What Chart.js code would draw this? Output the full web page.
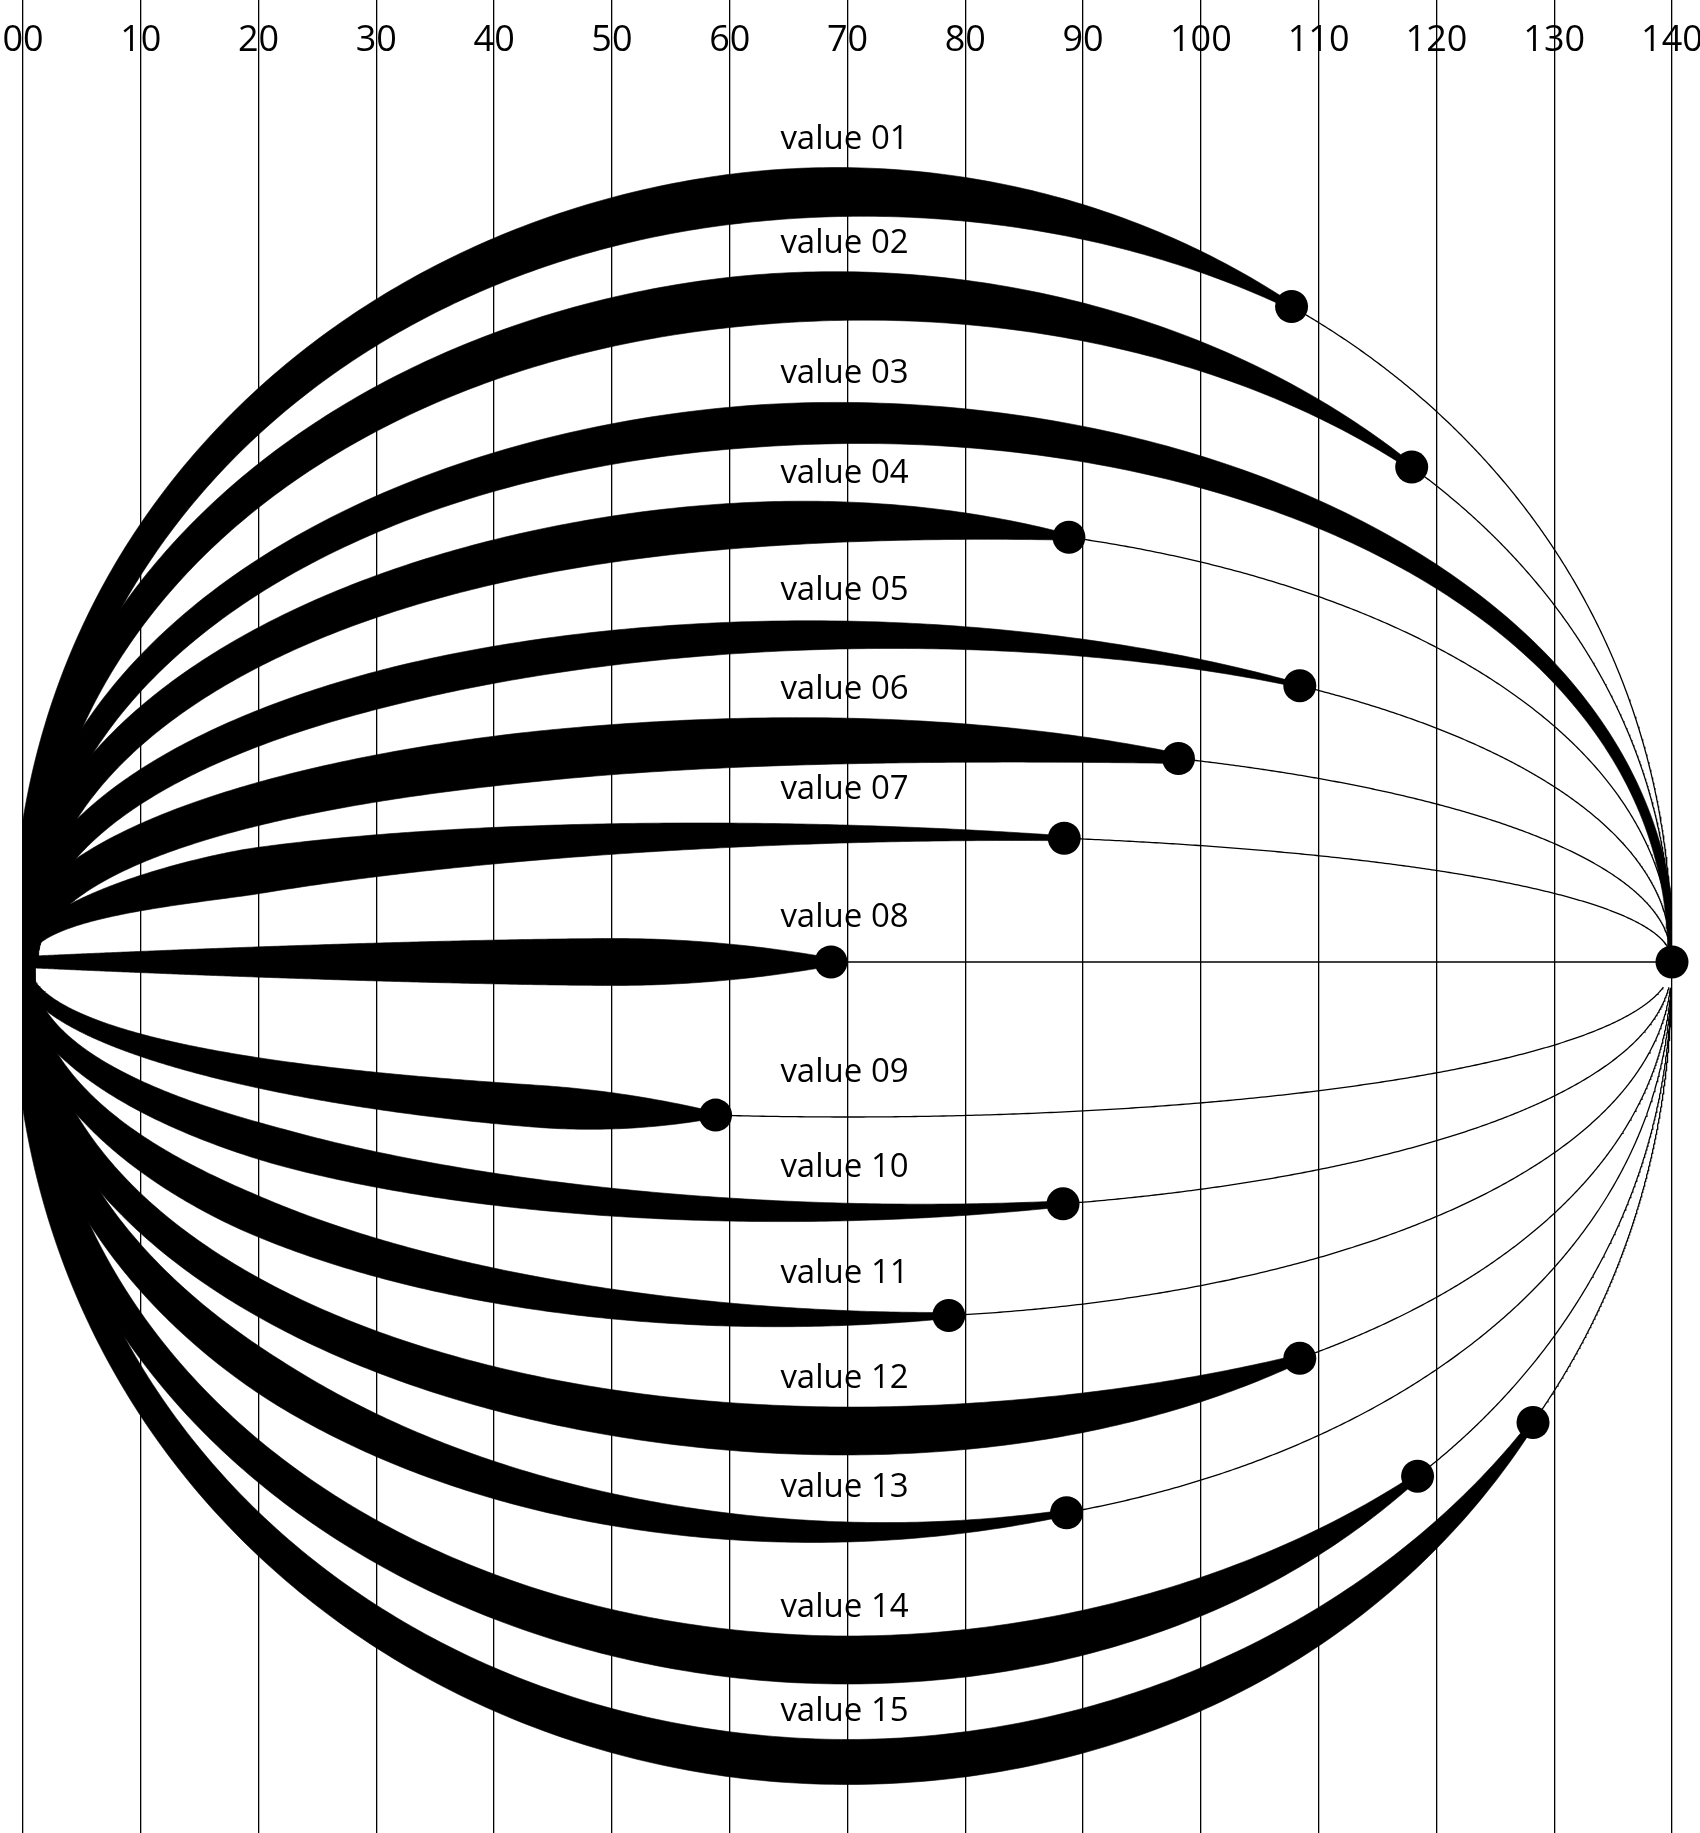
<!DOCTYPE html>
<html>
<head>
<meta charset="utf-8">
<script src="https://cdn.jsdelivr.net/npm/chart.js@4.4.1/dist/chart.umd.min.js"></script>
<style>
  html, body { margin: 0; padding: 0; background: #ffffff; }
  #wrap { width: 1700px; height: 1833px; position: relative; }
</style>
</head>
<body>
<div id="wrap"><canvas id="c"></canvas></div>
<script>
// ---------------- DATA ----------------
const CATEGORIES = ['value 01','value 02','value 03','value 04','value 05','value 06','value 07','value 08',
                    'value 09','value 10','value 11','value 12','value 13','value 14','value 15'];
// end value of every arc (at the centre of each dot)
const END_VALUES = [107.7, 117.9, 140, 88.8, 108.4, 98.1, 88.4, 68.6, 58.8, 88.3, 78.6, 108.4, 88.6, 118.4, 128.2];
// height of each arc at its apex (y-axis units, + above / - below the centre line)
const ARC_HEIGHTS = [770, 666, 539, 440, 327, 221, 128, 0, -155, -250, -356, -469, -570, -698, -800];
const TICK_LABELS = ['00','10','20','30','40','50','60','70','80','90','100','110','120','130','140'];

// ---------------- GEOMETRY / STYLE ----------------
const X_MIN = 0, X_MAX = 140, X_MID = 70, HALF = 70;
const AXIS_BAND = 70;                 // height of the tick-label strip at the top
const Y_MIN = -871, Y_MAX = 962 - AXIS_BAND;
const ARC_EXP = 0.47;
// band thickness profile (pixels): [peak width, peak position (0..1), start width, end width, fall exponent]
const BAND_PROFILE = [
  [50, 0.58, 22, 6, 2.0],
  [50, 0.52, 22, 6, 1.8],
  [42, 0.45, 20, 8, 1.5],
  [46, 0.60, 24, 6, 2.5],
  [37, 0.30, 24, 4, 1.8],
  [50, 0.45, 30, 10, 3.0],
  [46, 0.22, 12, 5, 1.2],
  [47, 0.73, 11, 8, 2.0],
  [42, 0.75, 12, 6, 2.0],
  [36, 0.25, 16, 6, 1.5],
  [38, 0.25, 16, 6, 2.0],
  [48, 0.60, 24, 8, 2.7],
  [40, 0.25, 18, 6, 1.6],
  [48, 0.55, 22, 6, 3.0],
  [45, 0.50, 22, 6, 3.4]
];
const RISE_EXP = 1.5;
const TAIL_GAP_ABOVE = 6, TAIL_GAP_BELOW = 25;   // px left open where thin tails meet
const DOT_RADIUS = 16.5;
const INK = '#000000';
const GRID_WIDTH = 1.3, TAIL_WIDTH = 1.3;
const LABEL_FONT = '33px "Open Sans"';
const LABEL_GAP = 19, LABEL_MIN_HALF = 16, LABEL_DX = -3;

function profileWidth(i, s) {
  const [W, p, w0, w1, k] = BAND_PROFILE[i];
  if (s <= p) return w0 + (W - w0) * (1 - Math.pow(1 - s / p, RISE_EXP));
  const t = Math.min(1, (s - p) / (1 - p));
  return W - (W - w1) * Math.pow(t, k);
}
function arcX(th) { return X_MID - HALF * Math.cos(th); }
function arcY(b, th) { return b * Math.pow(Math.max(0, Math.sin(th)), 2 * ARC_EXP); }
function thetaAt(x) { return Math.acos(Math.max(-1, Math.min(1, (X_MID - x) / HALF))); }

function bandData(i, rx, ry) {
  const v = END_VALUES[i], b = ARC_HEIGHTS[i];
  const thEnd = thetaAt(v);
  const N = 240;
  const outer = [], inner = [];
  for (let j = 0; j <= N; j++) {
    const th = thEnd * j / N;
    const x = arcX(th), y = arcY(b, th);
    const sn = Math.max(0, Math.sin(th)), cs = Math.cos(th);
    let tx = HALF * rx * Math.pow(sn, 2 - 2 * ARC_EXP);
    let ty = b * ry * 2 * ARC_EXP * cs;
    let len = Math.hypot(tx, ty);
    if (len < 1e-9) { tx = 1; ty = 0; len = 1; }
    const nx = -ty / len, ny = tx / len;
    const w = profileWidth(i, Math.max(0, Math.min(1, x / v)));
    const X = x * rx, Y = y * ry;
    outer.push({ x: (X + nx * w / 2) / rx, y: (Y + ny * w / 2) / ry });
    inner.push({ x: (X - nx * w / 2) / rx, y: (Y - ny * w / 2) / ry });
  }
  return outer.concat(inner.reverse());
}

function tailData(i, ry) {
  const v = END_VALUES[i], b = ARC_HEIGHTS[i];
  if (v >= X_MAX) return [];
  const th0 = thetaAt(v);
  const N = 300, pts = [];
  const gap = b < 0 ? TAIL_GAP_BELOW : TAIL_GAP_ABOVE;
  for (let j = 0; j <= N; j++) {
    const th = th0 + (Math.PI - th0) * j / N;
    const y = arcY(b, th);
    if (j > 0 && b !== 0 && Math.abs(y) * ry < gap) break;
    pts.push({ x: arcX(th), y: y });
  }
  return pts;
}

function dotData() {
  return END_VALUES.map((v, i) => ({ x: v, y: arcY(ARC_HEIGHTS[i], thetaAt(v)) }));
}

function buildDatasets(rx, ry) {
  const ds = [];
  CATEGORIES.forEach((name, i) => {
    ds.push({
      label: name + ' band', data: bandData(i, rx, ry),
      borderColor: INK, backgroundColor: INK, borderWidth: 0.6,
      fill: 'shape', pointRadius: 0, pointHoverRadius: 0, tension: 0
    });
  });
  CATEGORIES.forEach((name, i) => {
    const d = tailData(i, ry);
    if (d.length) ds.push({
      label: name + ' tail', data: d,
      borderColor: INK, borderWidth: TAIL_WIDTH, fill: false,
      pointRadius: 0, pointHoverRadius: 0, tension: 0
    });
  });
  ds.push({
    label: 'end points', data: dotData(), showLine: false,
    pointRadius: DOT_RADIUS, pointHoverRadius: DOT_RADIUS,
    pointBackgroundColor: INK, pointBorderColor: INK, pointBorderWidth: 0,
    clip: false
  });
  return ds;
}

const labelPlugin = {
  id: 'arcLabels',
  afterDatasetsDraw(chart) {
    const { ctx } = chart;
    const xs = chart.scales.x, ys = chart.scales.y;
    ctx.save();
    ctx.fillStyle = INK;
    ctx.font = LABEL_FONT;
    ctx.textAlign = 'center';
    ctx.textBaseline = 'alphabetic';
    CATEGORIES.forEach((name, i) => {
      const v = END_VALUES[i];
      const cy = ys.getPixelForValue(ARC_HEIGHTS[i]);
      const half = v > X_MID ? profileWidth(i, X_MID / v) / 2 : 0;
      const top = cy - Math.max(half, LABEL_MIN_HALF);
      ctx.fillText(name, xs.getPixelForValue(X_MID) + LABEL_DX, top - LABEL_GAP);
    });
    ctx.restore();
  }
};

const chart = new Chart(document.getElementById('c'), {
  type: 'line',
  data: { datasets: buildDatasets(11.77, 1) },
  options: {
    responsive: true,
    maintainAspectRatio: false,
    animation: false,
    events: [],
    layout: { autoPadding: false, padding: { left: 23, right: 28, top: 0, bottom: 0 } },
    plugins: { legend: { display: false }, tooltip: { enabled: false } },
    scales: {
      x: {
        type: 'linear', position: 'top', min: X_MIN, max: X_MAX,
        border: { display: false },
        grid: { color: INK, lineWidth: GRID_WIDTH, drawTicks: true, tickLength: AXIS_BAND, drawOnChartArea: true },
        ticks: {
          stepSize: 10, autoSkip: false, maxRotation: 0, minRotation: 0,
          padding: -62, color: INK,
          font: { family: 'Open Sans', size: 36 },
          callback: (val, idx) => TICK_LABELS[idx]
        },
        afterFit: (s) => { s.height = AXIS_BAND; s.paddingLeft = 0; s.paddingRight = 0; }
      },
      y: { type: 'linear', display: false, min: Y_MIN, max: Y_MAX }
    }
  },
  plugins: [labelPlugin]
});

// rebuild bands with the real pixel ratio of the two scales
const rx = chart.scales.x.getPixelForValue(1) - chart.scales.x.getPixelForValue(0);
const ry = chart.scales.y.getPixelForValue(0) - chart.scales.y.getPixelForValue(1);
chart.data.datasets = buildDatasets(rx, ry);
chart.update('none');
</script>
</body>
</html>
